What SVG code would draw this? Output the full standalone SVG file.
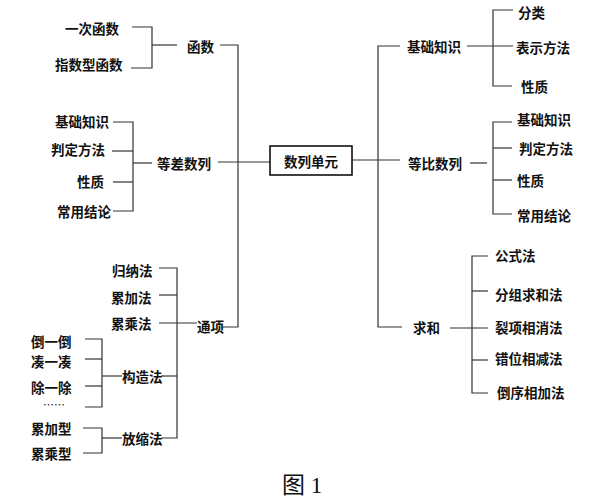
<svg xmlns="http://www.w3.org/2000/svg" width="600" height="499" viewBox="0 0 600 499">
<style>
.t{font-family:"Noto Sans CJK SC","Liberation Sans",sans-serif;font-size:13.5px;font-weight:bold;fill:#111;dominant-baseline:central}
.c line,.c polyline{stroke:#333;stroke-width:1.2;fill:none}
</style>
<rect width="600" height="499" fill="#fff"/>
<g class="c" id="connectors">
<!-- left main -->
<polyline points="220,45 238,45 238,327 222,327"/>
<line x1="218" y1="162" x2="270" y2="162"/>
<!-- 函数 -->
<polyline points="132,27 152,27 152,68 131,68"/>
<line x1="152" y1="45" x2="177" y2="45"/>
<!-- 等差数列 -->
<polyline points="113,122 133,122 133,211 113,211"/>
<line x1="112" y1="151" x2="133" y2="151"/>
<line x1="113" y1="182" x2="133" y2="182"/>
<line x1="133" y1="163" x2="152" y2="163"/>
<!-- 通项 -->
<polyline points="159,268 177,268 177,438 161,438"/>
<line x1="159" y1="295" x2="177" y2="295"/>
<line x1="159" y1="323" x2="197" y2="323"/>
<line x1="161" y1="376" x2="177" y2="376"/>
<line x1="102" y1="376" x2="122" y2="376"/>
<polyline points="85,339 102,339 102,407 85,407"/>
<line x1="85" y1="359" x2="102" y2="359"/>
<line x1="85" y1="386" x2="102" y2="386"/>
<polyline points="83,428 102,428 102,453 83,453"/>
<line x1="102" y1="438" x2="122" y2="438"/>
<!-- right main -->
<polyline points="400,46 378,46 378,327 402,327"/>
<line x1="352" y1="160" x2="400" y2="160"/>
<!-- 基础知识 right -->
<polyline points="513,10 493,10 493,86 512,86"/>
<line x1="467" y1="46" x2="513" y2="46"/>
<!-- 等比数列 -->
<polyline points="512,122 493,122 493,214 512,214"/>
<line x1="493" y1="148" x2="512" y2="148"/>
<line x1="493" y1="180" x2="512" y2="180"/>
<line x1="470" y1="163" x2="487" y2="163"/>
<!-- 求和 -->
<polyline points="488,256 472,256 472,393 488,393"/>
<line x1="472" y1="291" x2="488" y2="291"/>
<line x1="450" y1="328" x2="488" y2="328"/>
<line x1="472" y1="360" x2="488" y2="360"/>
</g>
<g id="root"><rect x="270" y="146" width="82" height="29" fill="#fff" stroke="#111" stroke-width="1.6"/><text class="t" x="311" y="161" text-anchor="middle">数列单元</text></g>
<g id="hanshu"><text class="t" x="187" y="46">函数</text></g>
<g id="yici"><text class="t" x="65" y="28">一次函数</text></g>
<g id="zhishu"><text class="t" x="55" y="64">指数型函数</text></g>
<g id="dengcha"><text class="t" x="157" y="163">等差数列</text></g>
<g id="dc1"><text class="t" x="55" y="121">基础知识</text></g>
<g id="dc2"><text class="t" x="51" y="149">判定方法</text></g>
<g id="dc3"><text class="t" x="77" y="181">性质</text></g>
<g id="dc4"><text class="t" x="57" y="211">常用结论</text></g>
<g id="tongxiang"><text class="t" x="197" y="326">通项</text></g>
<g id="tx1"><text class="t" x="112" y="270">归纳法</text></g>
<g id="tx2"><text class="t" x="111" y="297">累加法</text></g>
<g id="tx3"><text class="t" x="111" y="323">累乘法</text></g>
<g id="gouzao"><text class="t" x="122" y="376">构造法</text></g>
<g id="gz1"><text class="t" x="31" y="341">倒一倒</text></g>
<g id="gz2"><text class="t" x="31" y="361">凑一凑</text></g>
<g id="gz3"><text class="t" x="31" y="387">除一除</text></g>
<g id="gz4"><text class="t" x="43" y="404" style="font-weight:normal;font-size:11px">……</text></g>
<g id="fangsuo"><text class="t" x="122" y="438">放缩法</text></g>
<g id="fs1"><text class="t" x="31" y="428">累加型</text></g>
<g id="fs2"><text class="t" x="31" y="453">累乘型</text></g>
<g id="jichu"><text class="t" x="407" y="46">基础知识</text></g>
<g id="jc1"><text class="t" x="518" y="12">分类</text></g>
<g id="jc2"><text class="t" x="516" y="47">表示方法</text></g>
<g id="jc3"><text class="t" x="521" y="86">性质</text></g>
<g id="dengbi"><text class="t" x="408" y="163">等比数列</text></g>
<g id="db1"><text class="t" x="517" y="119">基础知识</text></g>
<g id="db2"><text class="t" x="519" y="148">判定方法</text></g>
<g id="db3"><text class="t" x="517" y="180">性质</text></g>
<g id="db4"><text class="t" x="517" y="215">常用结论</text></g>
<g id="qiuhe"><text class="t" x="413" y="327">求和</text></g>
<g id="qh1"><text class="t" x="495" y="255">公式法</text></g>
<g id="qh2"><text class="t" x="495" y="294">分组求和法</text></g>
<g id="qh3"><text class="t" x="495" y="327">裂项相消法</text></g>
<g id="qh4"><text class="t" x="495" y="358">错位相减法</text></g>
<g id="qh5"><text class="t" x="497" y="392">倒序相加法</text></g>
<g id="caption"><text x="282" y="493" style="font-family:'Liberation Serif','Noto Sans CJK SC',serif;font-size:23px;fill:#111">图 1</text></g>
</svg>
